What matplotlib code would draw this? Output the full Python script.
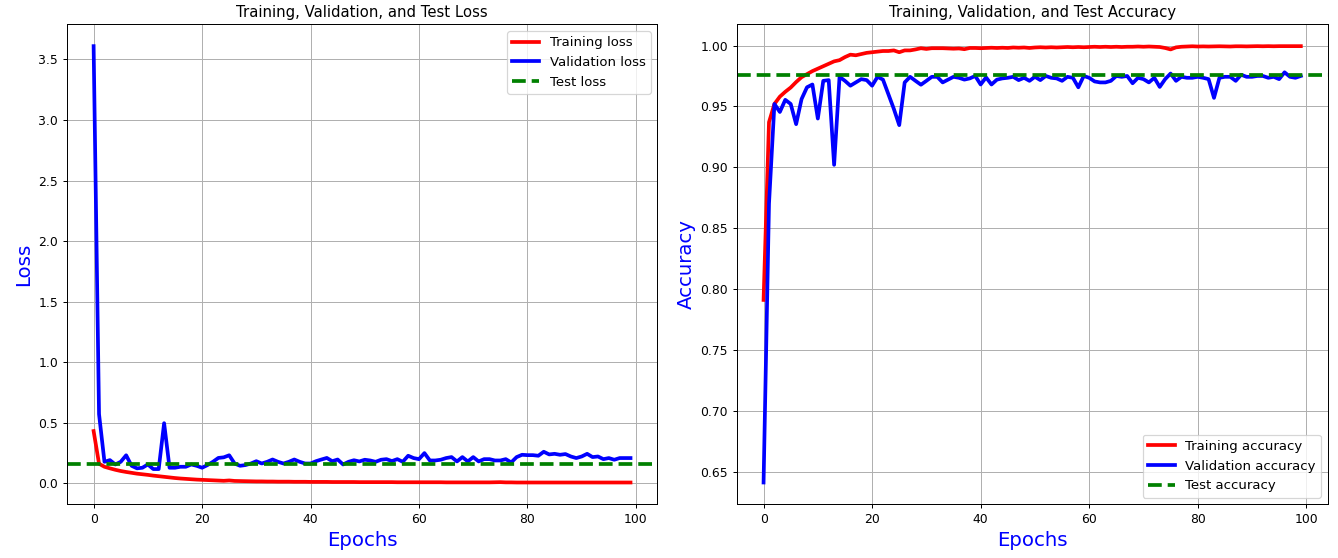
import numpy as np
from matplotlib import pyplot as plt

##데이터
epochs = list(range(100))

train_loss = [0.43, 0.16, 0.135, 0.122, 0.11, 0.10, 0.092, 0.085, 0.078, 0.073,
              0.068, 0.062, 0.057, 0.052, 0.047, 0.042, 0.038, 0.035, 0.032, 0.029,
              0.027, 0.025, 0.023, 0.021, 0.019, 0.022, 0.018, 0.017, 0.016, 0.015,
              0.014, 0.014, 0.013, 0.013, 0.012, 0.012, 0.012, 0.011, 0.011, 0.011,
              0.010, 0.010, 0.010, 0.010, 0.009, 0.009, 0.009, 0.009, 0.009, 0.008,
              0.008, 0.008, 0.008, 0.008, 0.008, 0.008, 0.007, 0.007, 0.007, 0.007,
              0.007, 0.007, 0.007, 0.007, 0.007, 0.006, 0.006, 0.006, 0.006, 0.006,
              0.006, 0.006, 0.006, 0.006, 0.007, 0.008, 0.006, 0.006, 0.005, 0.005,
              0.005, 0.005, 0.005, 0.005, 0.005, 0.005, 0.005, 0.005, 0.005, 0.005,
              0.005, 0.005, 0.005, 0.005, 0.005, 0.005, 0.005, 0.005, 0.005, 0.005]

val_loss = [3.61, 0.57, 0.176, 0.19, 0.154, 0.176, 0.23, 0.143, 0.122, 0.127,
            0.154, 0.116, 0.116, 0.495, 0.127, 0.127, 0.135, 0.135, 0.154, 0.143,
            0.127, 0.149, 0.176, 0.208, 0.213, 0.23, 0.162, 0.143, 0.149, 0.162,
            0.181, 0.162, 0.176, 0.195, 0.176, 0.162, 0.176, 0.195, 0.176, 0.162,
            0.162, 0.181, 0.195, 0.208, 0.181, 0.195, 0.154, 0.176, 0.189, 0.179,
            0.193, 0.187, 0.176, 0.193, 0.198, 0.182, 0.198, 0.176, 0.226, 0.207,
            0.198, 0.248, 0.187, 0.187, 0.193, 0.207, 0.215, 0.179, 0.215, 0.179,
            0.215, 0.179, 0.198, 0.198, 0.187, 0.187, 0.198, 0.171, 0.215, 0.234,
            0.231, 0.231, 0.226, 0.259, 0.237, 0.242, 0.234, 0.240, 0.220, 0.207,
            0.220, 0.242, 0.215, 0.220, 0.198, 0.207, 0.193, 0.207, 0.207, 0.207]

train_acc = [0.791, 0.937, 0.952, 0.958, 0.962, 0.9655, 0.970, 0.974, 0.9765, 0.979,
             0.981, 0.983, 0.985, 0.987, 0.988, 0.9905, 0.9925, 0.992, 0.993, 0.994,
             0.9945, 0.995, 0.9955, 0.9955, 0.996, 0.9945, 0.996, 0.996, 0.9968, 0.9978,
             0.9972, 0.9978, 0.9978, 0.9978, 0.9976, 0.9974, 0.9976, 0.997, 0.998, 0.998,
             0.9978, 0.998, 0.9982, 0.998, 0.9982, 0.998, 0.9984, 0.9982, 0.9984, 0.998,
             0.9984, 0.9986, 0.9984, 0.9986, 0.9984, 0.9986, 0.9988, 0.9986, 0.9988, 0.9986,
             0.9988, 0.999, 0.9988, 0.999, 0.9988, 0.999, 0.9988, 0.999, 0.999, 0.9992,
             0.999, 0.9992, 0.999, 0.9988, 0.998, 0.9968, 0.9985, 0.999, 0.9992, 0.9994,
             0.9992, 0.9993, 0.9992, 0.9993, 0.9994, 0.9993, 0.9992, 0.9994, 0.9994, 0.9993,
             0.9994, 0.9995, 0.9994, 0.9995, 0.9994, 0.9995, 0.9995, 0.9995, 0.9995, 0.9995]

val_acc = [0.641, 0.87, 0.952, 0.9454, 0.9554, 0.952, 0.9354, 0.956, 0.9657, 0.968,
           0.940, 0.971, 0.9716, 0.902, 0.9743, 0.971, 0.967, 0.9697, 0.9724, 0.9716,
           0.967, 0.9743, 0.972, 0.960, 0.948, 0.9346, 0.9697, 0.9743, 0.971, 0.9678,
           0.971, 0.9743, 0.9743, 0.9697, 0.972, 0.9743, 0.9735, 0.972, 0.973, 0.975,
           0.968, 0.9738, 0.968, 0.972, 0.973, 0.9735, 0.9743, 0.9716, 0.9735, 0.971,
           0.9743, 0.9716, 0.975, 0.9735, 0.973, 0.971, 0.9743, 0.9735, 0.9657, 0.975,
           0.9735, 0.9705, 0.9697, 0.9697, 0.971, 0.975, 0.9743, 0.975, 0.969, 0.9735,
           0.9724, 0.9697, 0.9735, 0.966, 0.9724, 0.977, 0.971, 0.9743, 0.9735, 0.9735,
           0.9743, 0.9735, 0.9724, 0.957, 0.9735, 0.9743, 0.9743, 0.971, 0.976, 0.9743,
           0.9743, 0.975, 0.975, 0.9735, 0.9743, 0.9724, 0.978, 0.9743, 0.9735, 0.975]

test_loss = 0.155
test_acc = 0.976

##그림 (1338x558 px)
dpi = 89.2
fig = plt.figure(figsize=(1338 / dpi, 558 / dpi), dpi=dpi)
ax1 = fig.add_axes([0.0499, 0.0962, 0.4414, 0.8602])
ax2 = fig.add_axes([0.5506, 0.0962, 0.4417, 0.8602])

#손실
ax1.plot(epochs, train_loss, 'r', linewidth=3, label='Training loss')
ax1.plot(epochs, val_loss, 'b', linewidth=3, label='Validation loss')
ax1.axhline(test_loss, color='green', linestyle='--', linewidth=3, label='Test loss')
ax1.set_title('Training, Validation, and Test Loss')
ax1.set_xlabel('Epochs', fontsize=16, color='blue')
ax1.set_ylabel('Loss', fontsize=16, color='blue')
ax1.legend(loc='upper right', fontsize=10.7)
ax1.grid(True)

#정확도
ax2.plot(epochs, train_acc, 'r', linewidth=3, label='Training accuracy')
ax2.plot(epochs, val_acc, 'b', linewidth=3, label='Validation accuracy')
ax2.axhline(test_acc, color='green', linestyle='--', linewidth=3, label='Test accuracy')
ax2.set_title('Training, Validation, and Test Accuracy')
ax2.set_xlabel('Epochs', fontsize=16, color='blue')
ax2.set_ylabel('Accuracy', fontsize=16, color='blue')
ax2.legend(loc='lower right', fontsize=10.7)
ax2.grid(True)

fig.savefig('out.png', dpi=dpi)
